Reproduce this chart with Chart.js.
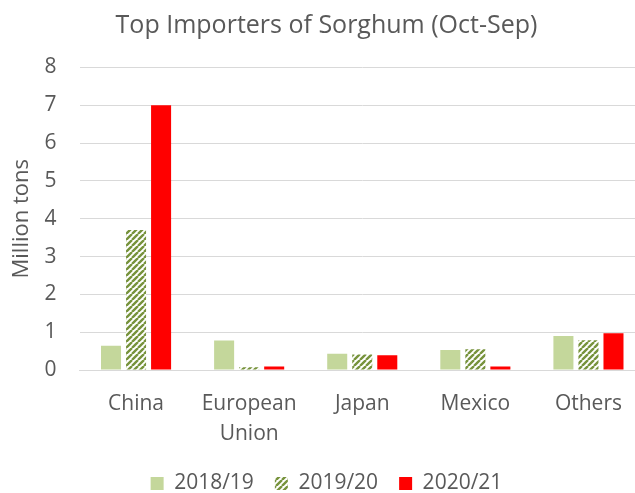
<!DOCTYPE html>
<html><head><meta charset="utf-8">
<script src="https://cdn.jsdelivr.net/npm/chart.js@4"></script>
<style>html,body{margin:0;padding:0;background:#fff;overflow:hidden;width:635px;height:493px}#w{width:672px;height:504px}</style>
</head><body><div id="w"><canvas id="c"></canvas></div>
<script>
const categories = [["China"], ["European", "Union"], ["Japan"], ["Mexico"], ["Others"]];
const seriesNames = ["2018/19", "2019/20", "2020/21"];
const s2018 = [0.64, 0.78, 0.43, 0.53, 0.90];
const s2019 = [3.70, 0.07, 0.41, 0.55, 0.79];
const s2020 = [7.00, 0.09, 0.39, 0.09, 0.97];
const yTicks = [0, 1, 2, 3, 4, 5, 6, 7, 8];

function hatch() {
  const p = document.createElement('canvas');
  p.width = 6; p.height = 6;
  const g = p.getContext('2d');
  g.fillStyle = '#ffffff'; g.fillRect(0, 0, 6, 6);
  g.strokeStyle = '#77933c'; g.lineWidth = 2.4;
  g.beginPath();
  for (let k = -6; k <= 12; k += 6) { g.moveTo(k, 6); g.lineTo(k + 6, 0); }
  g.stroke();
  return document.getElementById('c').getContext('2d').createPattern(p, 'repeat');
}
const font = "'Open Sans', 'Liberation Sans', sans-serif";
const grey = '#595959';
new Chart(document.getElementById('c'), {
  type: 'bar',
  data: {
    labels: categories,
    datasets: [
      { label: seriesNames[0], data: s2018, backgroundColor: '#c4d79b' },
      { label: seriesNames[1], data: s2019, backgroundColor: hatch() },
      { label: seriesNames[2], data: s2020, backgroundColor: '#ff0000' }
    ]
  },
  options: {
    responsive: true, maintainAspectRatio: false, animation: false,
    datasets: { bar: { categoryPercentage: 0.664, barPercentage: 0.8 } },
    layout: { padding: { left: 8, right: 27, top: 11, bottom: 0 } },
    plugins: {
      title: { display: true, text: 'Top Importers of Sorghum (Oct-Sep)', color: grey,
        font: { family: font, size: 25, weight: 'normal' }, padding: { top: 0, bottom: 26.5 } },
      legend: { position: 'bottom', labels: { color: grey, font: { family: font, size: 21 },
        boxWidth: 13, boxHeight: 13, padding: 21 } },
      tooltip: { enabled: false }
    },
    scales: {
      x: {
        grid: { display: false },
        border: { color: '#d9d9d9', width: 1 },
        ticks: { color: grey, font: { family: font, size: 21, lineHeight: 1.43 }, maxRotation: 0, padding: 11 },
        afterFit: s => { s.height = 82; }
      },
      y: {
        min: 0, max: 8,
        afterBuildTicks: a => { a.ticks = yTicks.map(v => ({ value: v })); },
        grid: { color: '#d9d9d9', lineWidth: 1, drawTicks: false },
        border: { display: false },
        ticks: { color: grey, font: { family: font, size: 21 }, padding: 23 },
        title: { display: true, text: 'Million tons', color: grey, font: { family: font, size: 22 }, padding: { top: 1, bottom: 0 } },
        afterFit: s => { s.width = 71.5; }
      }
    }
  }
});
</script></body></html>
